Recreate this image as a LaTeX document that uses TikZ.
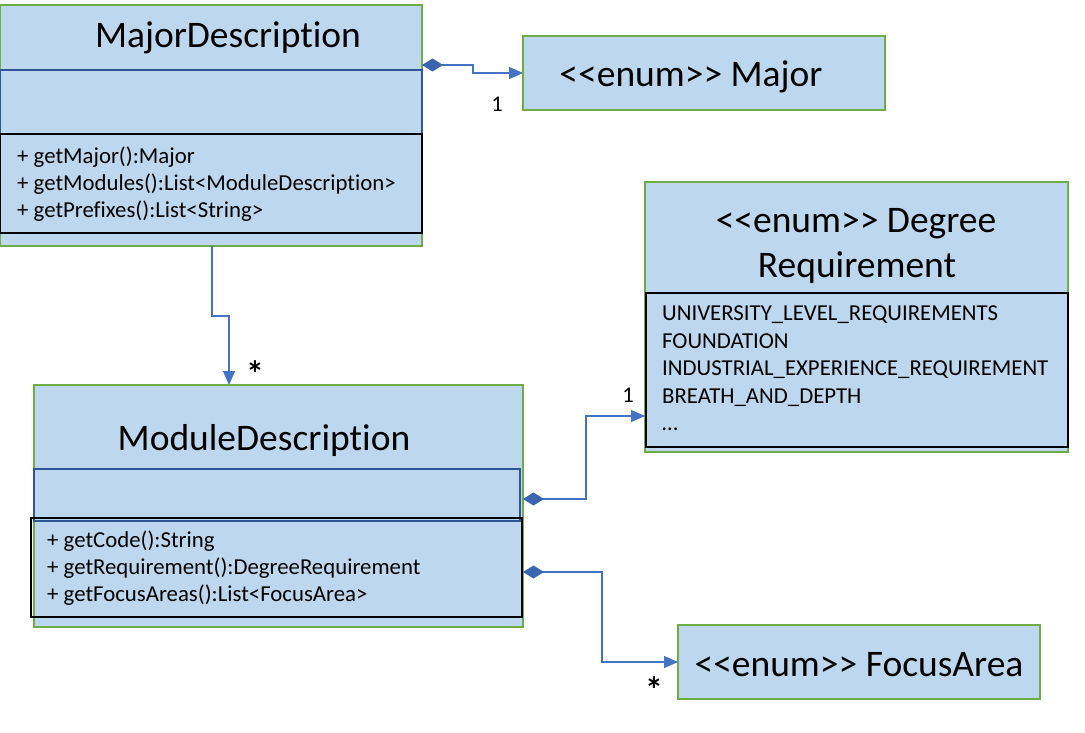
\documentclass[tikz,border=0pt]{standalone}
\usepackage{fontspec}
\newfontfamily\calib{Carlito}[Ligatures={NoCommon}]
\usetikzlibrary{arrows.meta}
\definecolor{fillb}{HTML}{BDD7EE}
\definecolor{grn}{HTML}{70AD47}
\definecolor{dblue}{HTML}{2F5597}
\definecolor{lnk}{HTML}{4472C4}
\definecolor{dia}{HTML}{3A66B0}
\newcommand\enumtag{<\kern0pt<enum>\kern0pt>}
\begin{document}
\begin{tikzpicture}[x=1pt,y=-1pt,
  outerbox/.style={draw=grn, line width=2pt, fill=fillb, anchor=north west, inner sep=0pt, outer sep=0pt},
  attrbox/.style={draw=dblue, line width=1.6pt, anchor=north west, inner sep=0pt, outer sep=0pt},
  methbox/.style={draw=black, line width=2pt, anchor=north west, inner sep=0pt, outer sep=0pt},
  title/.style={font=\calib\fontsize{37.5}{40}\selectfont, anchor=base, inner sep=0pt},
  item/.style={font=\calib\fontsize{22.8}{26}\selectfont, anchor=base west, inner sep=0pt},
  mult/.style={font=\calib\fontsize{22.5}{26}\selectfont, anchor=base, inner sep=0pt},
  star/.style={font=\calib\bfseries\fontsize{36}{36}\selectfont, anchor=base, inner sep=0pt},
  link/.style={draw=lnk, line width=1.2pt,
    {Diamond[width=13pt,length=21pt,fill=dia,color=dia]}-{Triangle[width=12pt,length=14pt,fill=lnk,color=lnk]}},
  plain/.style={draw=lnk, line width=1.2pt, -{Triangle[width=12pt,length=14pt,fill=lnk,color=lnk]}}
]
\useasboundingbox (0,0) rectangle (1085,733);
\fill[white] (0,0) rectangle (1085,733);

% MajorDescription
\node[outerbox, minimum width=422pt, minimum height=241pt] (major) at (0,5) {};
\node[attrbox, minimum width=422pt, minimum height=64pt] (majorattr) at (0,70) {};
\node[methbox, minimum width=422pt, minimum height=99pt] (majormeth) at (0,134) {};
\node[title] (majortitle) at (228,48) {MajorDescription};
\node[item] (m1) at (17,164) {+ getMajor():Major};
\node[item] (m2) at (17,191) {+ getModules():List<ModuleDescription>};
\node[item] (m3) at (17,218) {+ getPrefixes():List<String>};

% enum Major
\node[outerbox, minimum width=362pt, minimum height=74pt] (enummajor) at (523,36) {};
\node[title] (enummajortitle) at (691,87) {\enumtag{} Major};

% Degree Requirement
\node[outerbox, minimum width=423pt, minimum height=270pt] (degree) at (645,182) {};
\node[methbox, minimum width=422pt, minimum height=154pt] (degreelist) at (646,293) {};
\node[title] (degt1) at (856,233) {\enumtag{} Degree};
\node[title] (degt2) at (857,277) {Requirement};
\node[item] (d1) at (662,320) {UNIVERSITY\_LEVEL\_REQUIREMENTS};
\node[item] (d2) at (662,348) {FOUNDATION};
\node[item] (d3) at (662,375) {INDUSTRIAL\_EXPERIENCE\_REQUIREMENT};
\node[item] (d4) at (662,403) {BREATH\_AND\_DEPTH};
\node[item] (d5) at (662,430) {\dots};

% ModuleDescription
\node[outerbox, minimum width=489pt, minimum height=242pt] (module) at (34,385) {};
\node[attrbox, minimum width=486pt, minimum height=52pt] (moduleattr) at (34,469) {};
\node[methbox, minimum width=491pt, minimum height=99pt] (modulemeth) at (31,518) {};
\node[title] (moduletitle) at (264,450) {ModuleDescription};
\node[item] (c1) at (47,547) {+ getCode():String};
\node[item] (c2) at (47,574) {+ getRequirement():DegreeRequirement};
\node[item] (c3) at (47,601) {+ getFocusAreas():List<FocusArea>};

% enum FocusArea
\node[outerbox, minimum width=362pt, minimum height=74pt] (focus) at (678,625) {};
\node[title] (focustitle) at (859,676) {\enumtag{} FocusArea};

% connectors
\coordinate (b1) at (212,316);
\coordinate (b2) at (229,316);
\draw[plain] (major.south -| b1) -- (b1) -- (b2) -- (b2 |- module.north);

\coordinate (s1) at (422,65);
\coordinate (k1) at (473,65);
\draw[link] (s1) -- (k1) |- (enummajor.west);

\coordinate (s2) at (523,499);
\coordinate (k2) at (586,499);
\coordinate (t2) at (645,416);
\draw[link] (s2) -- (k2) |- (t2);

\coordinate (s3) at (523,572);
\coordinate (k3) at (602,572);
\draw[link] (s3) -- (k3) |- (focus.west);

% multiplicities
\node[mult] (l1) at (497,112) {1};
\node[star] (l2) at (255,386) {*};
\node[mult] (l3) at (628,402) {1};
\node[star] (l4) at (654,702) {*};
\end{tikzpicture}
\end{document}
